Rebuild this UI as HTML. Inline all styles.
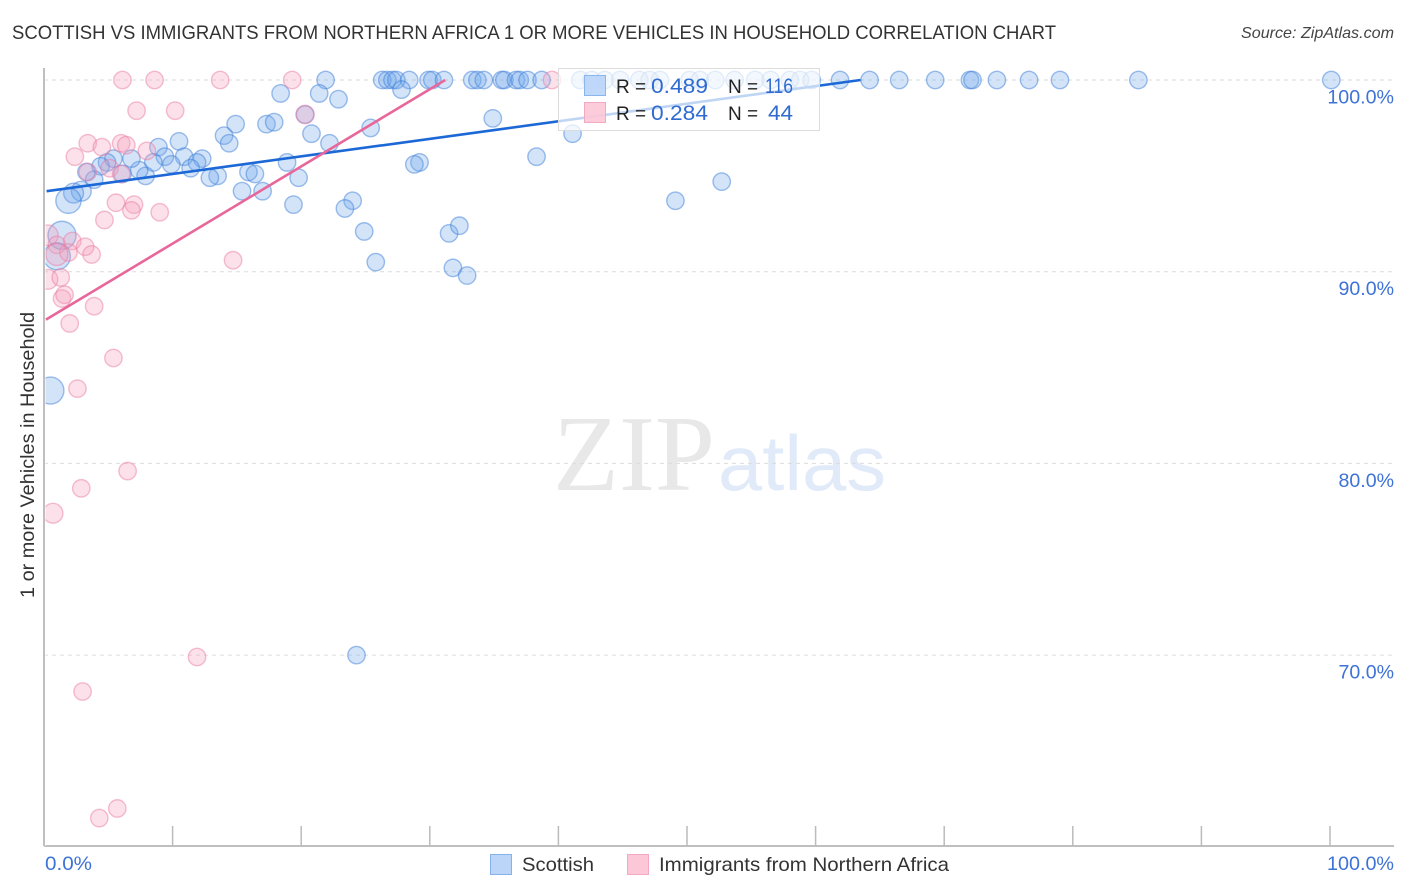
<!DOCTYPE html>
<html lang="en">
<head>
<meta charset="utf-8">
<title>Scottish vs Immigrants from Northern Africa correlation chart</title>
<style>
html,body{margin:0;padding:0;background:#fff;}
body{width:1406px;height:892px;overflow:hidden;}
svg{display:block;font-family:"Liberation Sans",sans-serif;}
</style>
</head>
<body>
<svg id="chart" width="1406" height="892" viewBox="0 0 1406 892" xmlns="http://www.w3.org/2000/svg">
  <text x="12" y="39" font-size="19" fill="#333" textLength="1044" lengthAdjust="spacingAndGlyphs">SCOTTISH VS IMMIGRANTS FROM NORTHERN AFRICA 1 OR MORE VEHICLES IN HOUSEHOLD CORRELATION CHART</text>
  <text x="1394" y="38" font-size="16" font-style="italic" fill="#444" text-anchor="end" textLength="153" lengthAdjust="spacingAndGlyphs">Source: ZipAtlas.com</text>
  <g>
    <text x="553" y="490" font-family="'Liberation Serif',serif" font-size="108" fill="#e8e8e8" textLength="162" lengthAdjust="spacingAndGlyphs">ZIP</text>
    <text x="718" y="490" font-size="78" fill="#e1eaf8" textLength="168" lengthAdjust="spacingAndGlyphs">atlas</text>
  </g>
  <g id="grid"></g>
  <g id="axes"></g>
  <g id="blue"></g>
  <g id="pink"></g>
  <rect x="0" y="60" width="45.5" height="786" fill="#fff"/>
  <g id="axis-front"></g>
  <g id="trends"></g>
  <text transform="translate(34,455) rotate(-90)" font-size="19" fill="#333" text-anchor="middle" textLength="286" lengthAdjust="spacingAndGlyphs">1 or more Vehicles in Household</text>

  <g>
    <rect x="558.5" y="68.5" width="261" height="62" fill="#fff" fill-opacity="0.72" stroke="#dcdcdc" stroke-width="1"/>
    <rect x="584.5" y="75.5" width="21" height="20" fill="#b9d4f8" fill-opacity="0.9" stroke="#8ab6ee"/>
    <rect x="584.5" y="102.5" width="21" height="20" fill="#fcc6d6" fill-opacity="0.9" stroke="#f3a9c0"/>
    <text x="616" y="93" font-size="19" fill="#222">R =</text>
    <text x="651" y="93" font-size="21" fill="#2f6bd0" textLength="57" lengthAdjust="spacingAndGlyphs">0.489</text>
    <text x="728" y="93" font-size="19" fill="#222">N =</text>
    <text x="765" y="93" font-size="21" fill="#2f6bd0" textLength="28" lengthAdjust="spacingAndGlyphs">116</text>
    <text x="616" y="120" font-size="19" fill="#222">R =</text>
    <text x="651" y="120" font-size="21" fill="#2f6bd0" textLength="57" lengthAdjust="spacingAndGlyphs">0.284</text>
    <text x="728" y="120" font-size="19" fill="#222">N =</text>
    <text x="768" y="120" font-size="21" fill="#2f6bd0" textLength="25" lengthAdjust="spacingAndGlyphs">44</text>
  </g>

  <g>
    <rect x="490.5" y="854.5" width="21" height="20" fill="#bad5f8" stroke="#86b2ec"/>
    <text x="522" y="871" font-size="19.5" fill="#333" textLength="72" lengthAdjust="spacingAndGlyphs">Scottish</text>
    <rect x="627.5" y="854.5" width="21" height="20" fill="#fcc8d8" stroke="#f3a9c0"/>
    <text x="659" y="871" font-size="19.5" fill="#333" textLength="290" lengthAdjust="spacingAndGlyphs">Immigrants from Northern Africa</text>
  </g>
</svg>
<script>
const xTickValues = [0, 10, 20, 30, 40, 50, 60, 70, 80, 90, 100];
const xTickLabels = ["0.0%", "100.0%"];
const yTickValues = [100, 90, 80, 70];
const yTickLabels = ["100.0%", "90.0%", "80.0%", "70.0%"];

const blueX = [21.9,26.3,26.7,27.1,27.4,28.4,29.9,30.2,31.1,33.3,33.7,34.2,35.6,35.8,36.7,37.0,37.6,38.7,41.7,42.6,43.6,44.8,46.3,47.1,47.9,50.2,51.0,52.2,53.7,55.3,56.5,58.0,58.8,59.7,61.9,64.2,66.5,69.3,72.0,72.2,74.1,76.6,79.0,85.1,100.1,
  18.4,21.4,22.9,27.8,14.9,17.3,17.9,14.0,14.4,20.8,20.3,22.2,25.4,10.5,8.9,9.4,10.9,34.9,38.3,41.1,52.7,49.1,29.2,28.8,18.9,19.8,24.0,23.4,19.4,17.0,15.4,15.9,16.4,13.5,12.9,12.3,11.9,11.4,9.9,8.5,7.9,7.4,6.8,6.1,5.4,4.9,4.4,3.9,3.3,2.9,2.3,1.9,1.4,1.0,0.5,24.9,25.8,31.5,32.3,31.8,32.9,24.3];
const blueY = [100,100,100,100,100,100,100,100,100,100,100,100,100,100,100,100,100,100,100,100,100,100,100,100,100,100,100,100,100,100,100,100,100,100,100,100,100,100,100,100,100,100,100,100,100,
  99.3,99.3,99.0,99.5,97.7,97.7,97.8,97.1,96.7,97.2,98.2,96.7,97.5,96.8,96.5,96.0,96.0,98.0,96.0,97.2,94.7,93.7,95.7,95.6,95.7,94.9,93.7,93.3,93.5,94.2,94.2,95.2,95.1,95.0,94.9,95.9,95.7,95.4,95.6,95.7,95.0,95.3,95.9,95.1,95.9,95.7,95.5,94.8,95.2,94.2,94.1,93.7,91.9,90.8,83.8,92.1,90.5,92.0,92.4,90.2,89.8,70.0];
const blueWeight = [1,1,1,1,1,1,1,1,1,1,1,1,1,1,1,1,1,1,1,1,1,1,1,1,1,1,1,1,1,1,1,1,1,1,1,1,1,1,1,1,1,1,1,1,1,
  1,1,1,1,1,1,1,1,1,1,1,1,1,1,1,1,1,1,1,1,1,1,1,1,1,1,1,1,1,1,1,1,1,1,1,1,1,1,1,1,1,1,1,1,1,1,1,1,1,1.3,1.3,2.1,2.6,2.4,2.4,1,1,1,1,1,1,1];

const pinkX = [6.1,8.6,13.7,19.3,39.5,7.2,10.2,20.3,3.4,4.5,2.4,6.0,6.4,8.0,3.4,5.1,6.0,5.6,7.0,6.8,9.0,4.7,14.7,0.3,1.0,2.2,3.2,3.7,1.9,1.0,0.3,1.3,1.4,1.6,3.9,2.0,5.4,2.6,6.5,2.9,0.7,11.9,3.0,5.7,4.3];
const pinkY = [100,100,100,100,100,98.4,98.4,98.2,96.7,96.5,96.0,96.7,96.6,96.3,95.2,95.4,95.1,93.6,93.5,93.2,93.1,92.7,90.6,91.9,91.4,91.6,91.3,90.9,91.0,90.9,89.6,89.7,88.6,88.8,88.2,87.3,85.5,83.9,79.6,78.7,77.4,69.9,68.1,62.0,61.5];
const pinkWeight = [1,1,1,1,1,1,1,1.1,1,1,1,1,1,1,1,1,1,1,1,1,1,1,1,1.4,1,1,1,1,1,1.6,1.3,1,1,1,1,1,1,1,1,1,1.3,1,1,1,1];

const blueTrendX = [0.2, 63.5];
const blueTrendY = [94.2, 100];
const pinkTrendX = [0.15, 31.2];
const pinkTrendY = [87.5, 100];

const NS = "http://www.w3.org/2000/svg";
function xScale(v){ return 44 + v * 12.86; }
function yScale(v){ return 80 + (100 - v) * 19.17; }
function rScale(w){ return 8.7 * Math.sqrt(w); }
function make(tag, attrs, parent){
  const el = document.createElementNS(NS, tag);
  for (const k in attrs) el.setAttribute(k, attrs[k]);
  parent.appendChild(el);
  return el;
}

const gridG = document.getElementById("grid");
const axesG = document.getElementById("axes");
const axisFrontG = document.getElementById("axis-front");

yTickValues.forEach(function(v, i){
  const line = make("line", {x1:44, x2:1394, y1:yScale(v), y2:yScale(v), stroke:"#dcdcdc", "stroke-width":1, "stroke-dasharray":"4 4"}, gridG);
  
  
  const label = make("text", {x:1394, y:yScale(v)+23.5, "font-size":19.5, fill:"#3d72d6", "text-anchor":"end", textLength: yTickLabels[i].length * 11.1, lengthAdjust:"spacingAndGlyphs"}, axesG);
  
  
  label.textContent = yTickLabels[i];
});

const yAxis = make("line", {x1:44, x2:44, y1:68, y2:846, stroke:"#aaaaaa", "stroke-width":1.5}, axisFrontG);


const xAxis = make("line", {x1:44, x2:1394, y1:846, y2:846, stroke:"#aaaaaa", "stroke-width":1.5}, axesG);



xTickValues.forEach(function(v){
  const tick = make("line", {x1:xScale(v), x2:xScale(v), y1:826, y2:846, stroke:"#bbbbbb", "stroke-width":1.5}, axesG);
  
  
});

const xLabelLeft = make("text", {x:45, y:870, "font-size":19.5, fill:"#3d72d6", textLength:47, lengthAdjust:"spacingAndGlyphs"}, axesG);


xLabelLeft.textContent = xTickLabels[0];
const xLabelRight = make("text", {x:1394, y:870, "font-size":19.5, fill:"#3d72d6", "text-anchor":"end", textLength:67, lengthAdjust:"spacingAndGlyphs"}, axesG);


xLabelRight.textContent = xTickLabels[1];

const blueG = document.getElementById("blue");
blueX.forEach(function(x, i){
  const c = make("circle", {cx:xScale(x), cy:yScale(blueY[i]), r:rScale(blueWeight[i]), fill:"#6ea6ec", "fill-opacity":0.3, stroke:"#3f7fd8", "stroke-opacity":0.5, "stroke-width":1.4}, blueG);
  
  
});

const pinkG = document.getElementById("pink");
pinkX.forEach(function(x, i){
  const c = make("circle", {cx:xScale(x), cy:yScale(pinkY[i]), r:rScale(pinkWeight[i]), fill:"#f59ab8", "fill-opacity":0.3, stroke:"#ea7aa0", "stroke-opacity":0.48, "stroke-width":1.4}, pinkG);
  
  
});

const trendsG = document.getElementById("trends");
const blueTrend = make("line", {x1:xScale(blueTrendX[0]), y1:yScale(blueTrendY[0]), x2:xScale(blueTrendX[1]), y2:yScale(blueTrendY[1]), stroke:"#1c68d6", "stroke-width":2.6}, trendsG);


const pinkTrend = make("line", {x1:xScale(pinkTrendX[0]), y1:yScale(pinkTrendY[0]), x2:xScale(pinkTrendX[1]), y2:yScale(pinkTrendY[1]), stroke:"#e8669a", "stroke-width":2.6}, trendsG);


</script>
</body>
</html>
